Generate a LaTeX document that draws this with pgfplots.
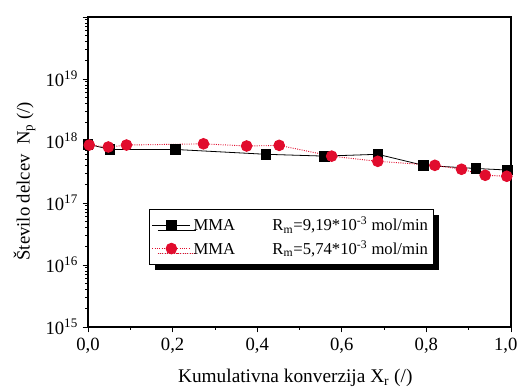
\documentclass[border=0pt]{standalone}
\usepackage{fontspec}
\setmainfont{Liberation Serif}
\usepackage{pgfplots}
\pgfplotsset{compat=1.18}
\usetikzlibrary{shadows}
\definecolor{myred}{RGB}{225,12,45}
\begin{document}
\begin{tikzpicture}
\path[use as bounding box] (-66pt,-48pt) rectangle (324pt,245.25pt);
\begin{axis}[
  at={(0,0)}, anchor=south west,
  scale only axis, width=317.25pt, height=232.5pt,
  xmin=0, xmax=1.0, ymode=log, ymin=1e15, ymax=1e20,
  xtick={0,0.2,0.4,0.6,0.8,1.0},
  xticklabels={0{,}0,0{,}2,0{,}4,0{,}6,0{,}8,\hspace*{-8pt}1{,}0},
  minor xtick={0.1,0.3,0.5,0.7,0.9},
  ytick={1e15,1e16,1e17,1e18,1e19,1e20},
  yticklabels={10\textsuperscript{15},10\textsuperscript{16},10\textsuperscript{17},10\textsuperscript{18},10\textsuperscript{19},{}},
  tick align=outside, tick pos=left,
  major tick length=4pt, minor tick length=2pt,
  tick style={black, line width=0.6pt},
  axis line style={line width=0.8pt},
  ticklabel style={font=\fontsize{14}{16}\selectfont},
  xticklabel style={yshift=-1pt},
  xlabel={Kumulativna konverzija X\textsubscript{r} (/)},
  ylabel={Število delcev\ \ N\textsubscript{p} (/)},
  xlabel style={font=\fontsize{14.5}{16}\selectfont, at={(axis description cs:0.49,-0.165)}, anchor=center},
  ylabel style={font=\fontsize{14}{16}\selectfont, at={(axis description cs:-0.15,0.47)}, anchor=center},
  legend style={at={(axis description cs:0.144,0.381)}, anchor=north west,
    draw=black, line width=0.6pt, fill=white, font=\fontsize{12.5}{14}\selectfont,
    drop shadow={shadow xshift=4pt, shadow yshift=-4pt, fill=black, opacity=1},
    inner xsep=2pt, inner ysep=4pt, row sep=2pt},
  legend cell align=left,
  legend image code/.code={\draw[mark repeat=2,mark phase=2] plot coordinates {(0cm,0cm)(0.5cm,0cm)(1cm,0cm)};},
]
\addplot[black, line width=0.6pt, mark=square*, mark size=3.6pt, mark options={solid}] coordinates {
(0.0,8.9e17)(0.052,7.3e17)(0.206,7.3e17)(0.421,6.1e17)(0.559,5.7e17)(0.685,6.1e17)(0.793,4.05e17)(0.917,3.6e17)(0.992,3.4e17)
};
\addlegendentry{MMA\hspace{28pt}R\textsubscript{m}=9,19*10\textsuperscript{-3} mol/min\hspace{6pt}}
\addplot[myred, line width=0.7pt, densely dotted, mark=*, mark size=4pt, mark options={solid, draw=myred, fill=myred}] coordinates {
(0.003,8.6e17)(0.048,8.0e17)(0.091,8.6e17)(0.273,9.0e17)(0.375,8.3e17)(0.452,8.5e17)(0.576,5.7e17)(0.685,4.7e17)(0.820,4.05e17)(0.883,3.5e17)(0.939,2.8e17)(0.99,2.7e17)
};
\addlegendentry{MMA\hspace{28pt}R\textsubscript{m}=5,74*10\textsuperscript{-3} mol/min\hspace{6pt}}
\end{axis}
\end{tikzpicture}
\end{document}
